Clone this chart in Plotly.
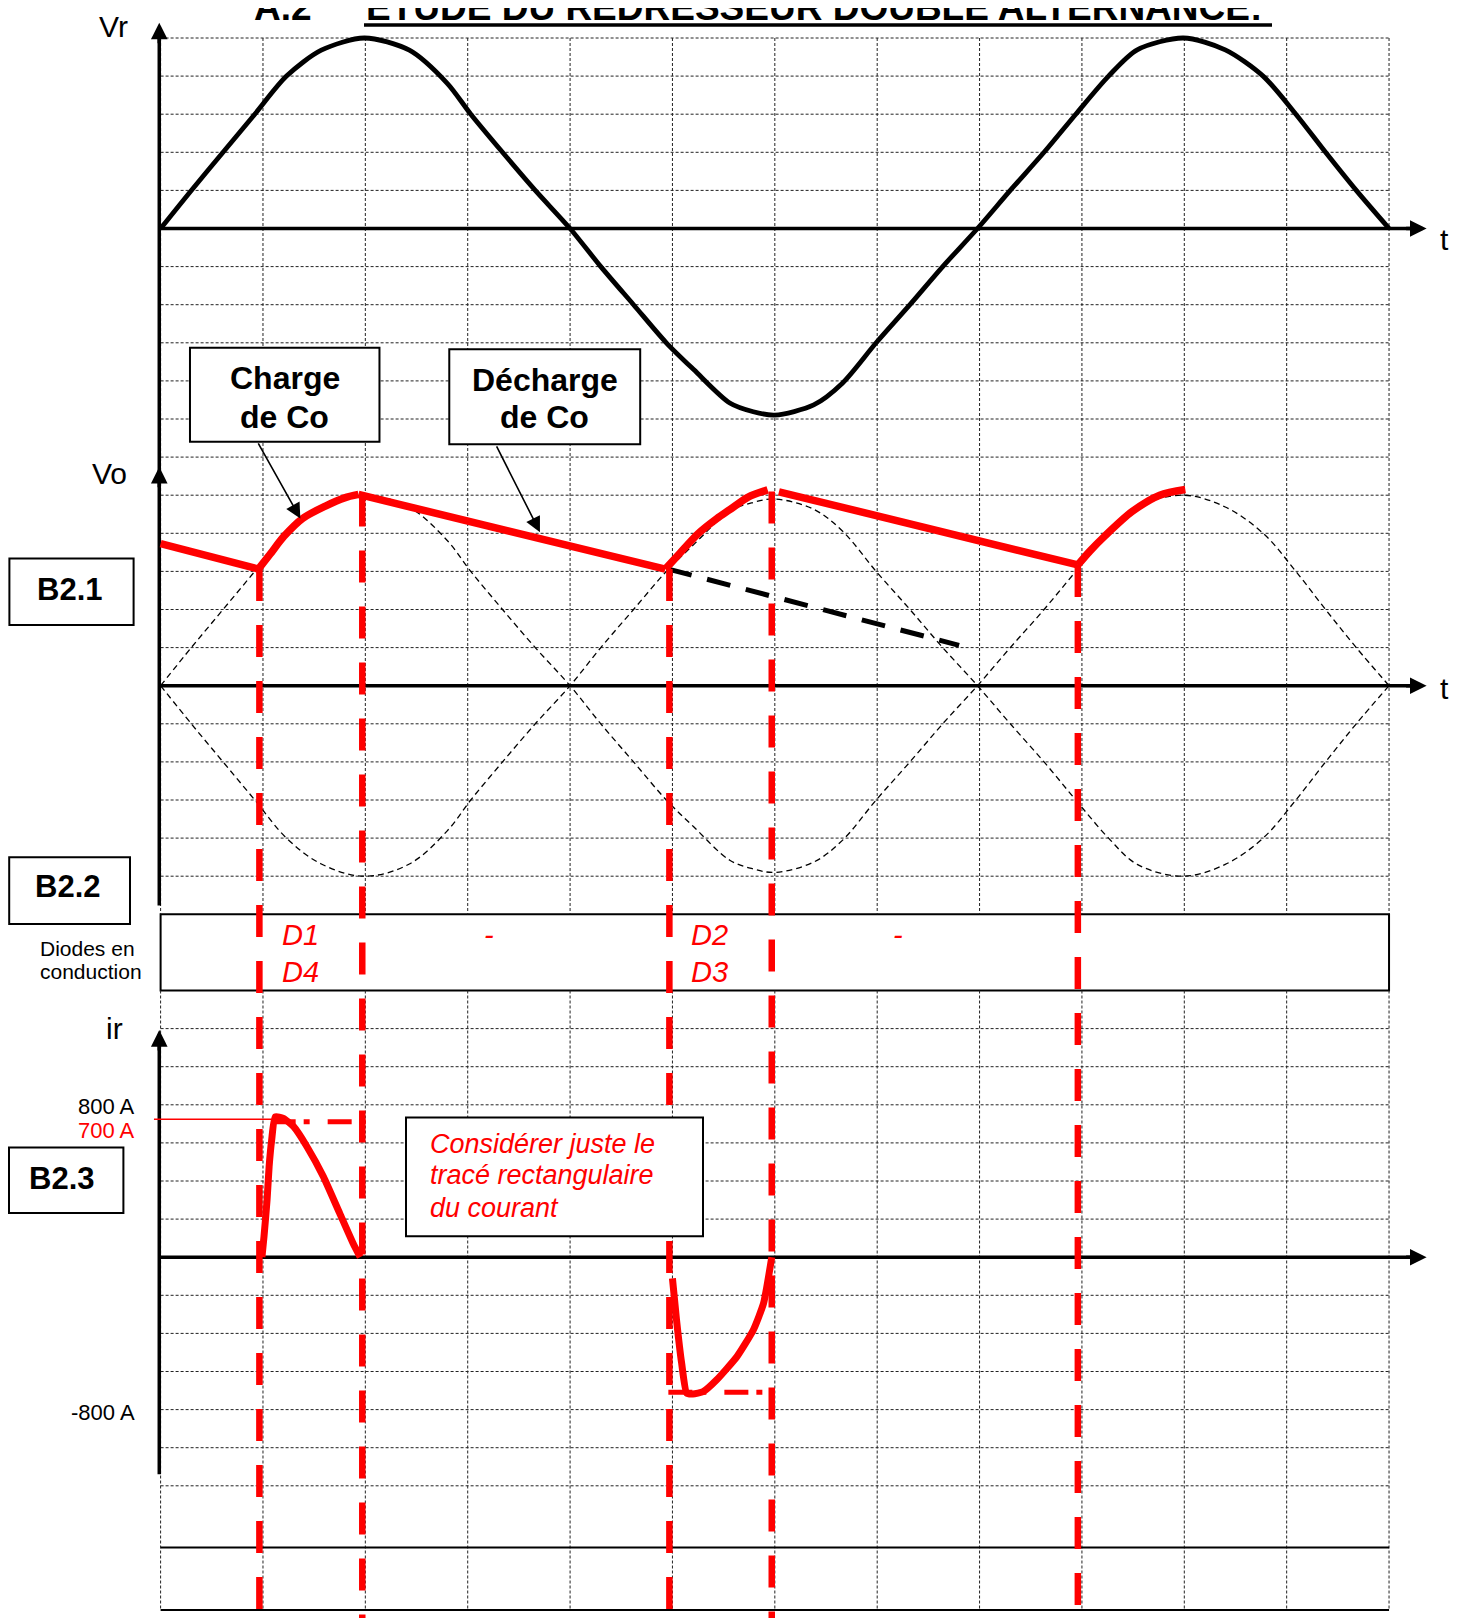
import plotly.graph_objects as go

# ---------------- data ----------------
# grid units: x in grid columns (12 columns), values in grid rows
vr_t = [0, 0.30, 0.61, 0.92, 1.23, 1.57, 1.99, 2.43, 2.80, 3.03, 3.34, 3.66, 4.00,
        4.30, 4.62, 4.94, 5.21, 5.56, 5.79, 6.00, 6.38, 6.66, 6.99, 7.32, 7.64, 7.98,
        8.30, 8.63, 8.94, 9.26, 9.54, 9.99, 10.40, 10.77, 11.09, 11.38, 11.68, 12.00]
vr_v = [0, 1.0, 2.0, 3.0, 4.0, 4.68, 5.0, 4.68, 3.81, 3.0, 2.0, 1.0, 0,
        -1.0, -2.0, -3.0, -3.71, -4.58, -4.81, -4.9, -4.63, -4.06, -3.0, -2.0, -1.0, 0,
        1.0, 2.0, 3.0, 4.0, 4.69, 5.0, 4.69, 4.0, 3.0, 2.0, 1.0, 0]

vo_t = [0, 0.955, 1.069, 1.205, 1.387, 1.615, 1.797, 1.933, 4.93, 5.07, 5.25, 5.435,
        5.56, 5.74, 5.93, None, 6.04, 8.96, 9.08, 9.22, 9.49, 9.76, 10.01]
vo_v = [3.73, 3.06, 3.45, 3.92, 4.39, 4.72, 4.93, 5.02, 3.06, 3.47, 3.99, 4.39,
        4.62, 4.95, 5.14, None, 5.09, 3.17, 3.54, 3.92, 4.57, 5.0, 5.15]
# index ranges (inclusive) of the charging arcs inside vo_t / vo_v
vo_arcs = [(1, 7), (8, 14), (17, 22)]

ext_t = [4.96, 7.80]
ext_v = [3.06, 1.06]

cond_t = [0.965, 1.97, 4.97, 5.97, 8.96]
cond_top = [3.06, 5.02, 3.06, 5.10, 3.17]

ir_t = [0.99, 1.01, 1.04, 1.06, 1.085, 1.12, 1.20, 1.30, 1.43, 1.59, 1.75, 1.88, 1.95, None,
        5.00, 5.04, 5.09, 5.14, 5.20, 5.30, 5.43, 5.63, 5.79, 5.89, 5.97]
ir_a = [0, 108, 300, 475, 615, 737, 729, 685, 580, 423, 230, 73, 0, None,
        -111, -330, -557, -714, -718, -706, -645, -522, -382, -242, 0]

rect_t = [1.085, 2.01, None, 4.96, 5.89]
rect_a = [711, 711, None, -709, -709]
ref700_t = [-0.065, 1.085]
ref700_a = [724, 724]

ir_tick_text = ["800 A", "700 A", "-800 A"]
ir_tick_color = ["black", "#FF0000", "black"]

diode_labels = ["D1", "D4", "-", "D2", "D3", "-"]
note_lines = ["Considérer juste le", "tracé rectangulaire", "du courant"]

# ---------------- geometry (page pixel layout) ----------------
OFF = 8                      # page body margin
W, H = 1463 - OFF, 1618 - OFF
COL_PX, COL0_PX = 102.37, 160.6
ROW_PX, ROW0_PX = 38.1, 38.0
VR_ZERO, VO_ZERO, IR_ZERO = 5, 17, 32
AMP_PER_ROW = 200.0

x_range = [-(COL0_PX - OFF) / COL_PX, (W - (COL0_PX - OFF)) / COL_PX]
row_top = -(ROW0_PX - OFF) / ROW_PX
row_bot = (H - (ROW0_PX - OFF)) / ROW_PX

RED = "#FF0000"
FONT = "Liberation Sans, Arial, sans-serif"

fig = go.Figure()

# ---- grid (drawn as traces) ----
dash_rows = list(range(0, 23)) + list(range(26, 39))
gx, gy = [], []
for r in dash_rows:
    gx += [0, 12, None]
    gy += [r, r, None]
for c in range(13):
    gx += [c, c, None, c, c, None]
    gy += [0, 23, None, 25, 41.26, None]
fig.add_trace(go.Scatter(x=gx, y=gy, mode="lines", yaxis="y",
                         line=dict(color="#222", width=1, dash="3px,2px"),
                         hoverinfo="skip", showlegend=False))
sx, sy = [], []
for r in [39.62, 41.26]:
    sx += [0, 12, None]
    sy += [r, r, None]
fig.add_trace(go.Scatter(x=sx, y=sy, mode="lines", yaxis="y",
                         line=dict(color="black", width=2.2),
                         hoverinfo="skip", showlegend=False))

# ---- dotted +/- Vr in Vo section ----
for sgn in (1, -1):
    fig.add_trace(go.Scatter(x=vr_t, y=[sgn * v for v in vr_v], mode="lines", yaxis="y3",
                             line=dict(color="black", width=1.3, dash="6px,4px", shape="spline"),
                             hoverinfo="skip", showlegend=False))

# ---- axes lines ----
AX_X = -0.013
ax_x = [AX_X, AX_X, None, AX_X, AX_X, None]
ax_y = [-0.25, 22.77, None, 26.2, 37.7, None]
for r in [VR_ZERO, VO_ZERO, IR_ZERO]:
    ax_x += [AX_X, 12.25, None]
    ax_y += [r, r, None]
fig.add_trace(go.Scatter(x=ax_x, y=ax_y, mode="lines", yaxis="y",
                         line=dict(color="black", width=3.5),
                         hoverinfo="skip", showlegend=False))

# ---- Vr ----
fig.add_trace(go.Scatter(x=vr_t, y=vr_v, mode="lines", yaxis="y2",
                         line=dict(color="black", width=4.8, shape="spline", smoothing=0.8),
                         hoverinfo="skip", showlegend=False))

# ---- black dashed extension of discharge ----
fig.add_trace(go.Scatter(x=ext_t, y=ext_v, mode="lines", yaxis="y3",
                         line=dict(color="black", width=5, dash="24px,16px"),
                         hoverinfo="skip", showlegend=False))

# ---- red conduction verticals ----
vo_bottom = VO_ZERO - 41.5
cx, cy = [], []
for t, top in zip(cond_t, cond_top):
    cx += [t, t, None]
    cy += [top, vo_bottom, None]
fig.add_trace(go.Scatter(x=cx, y=cy, mode="lines", yaxis="y3",
                         line=dict(color=RED, width=6.5, dash="32px,24px"),
                         hoverinfo="skip", showlegend=False))

# ---- Vo: straight discharge parts + smooth charging arcs ----
dec_x, dec_y = [], []
prev = 0
for a, b in vo_arcs:
    dec_x += vo_t[prev:a + 1] + [None]
    dec_y += vo_v[prev:a + 1] + [None]
    prev = b
dec_x += vo_t[prev:] if prev < len(vo_t) - 1 else []
dec_y += vo_v[prev:] if prev < len(vo_v) - 1 else []
fig.add_trace(go.Scatter(x=dec_x, y=dec_y, mode="lines", yaxis="y3",
                         line=dict(color=RED, width=7.5),
                         hoverinfo="skip", showlegend=False))
for a, b in vo_arcs:
    fig.add_trace(go.Scatter(x=vo_t[a:b + 1], y=vo_v[a:b + 1], mode="lines", yaxis="y3",
                             line=dict(color=RED, width=7.5, shape="spline", smoothing=0.8),
                             hoverinfo="skip", showlegend=False))

# ---- ir ----
fig.add_trace(go.Scatter(x=ref700_t, y=ref700_a, mode="lines", yaxis="y4",
                         line=dict(color=RED, width=1.6),
                         hoverinfo="skip", showlegend=False))
fig.add_trace(go.Scatter(x=rect_t, y=rect_a, mode="lines", yaxis="y4",
                         line=dict(color=RED, width=5, dash="24px,8px,6px,18px"),
                         hoverinfo="skip", showlegend=False))
fig.add_trace(go.Scatter(x=ir_t, y=ir_a, mode="lines", yaxis="y4",
                         line=dict(color=RED, width=7, shape="spline", smoothing=0.5),
                         hoverinfo="skip", showlegend=False))

# ---------------- annotations ----------------
ann = []


def px_row(py):
    return (py - ROW0_PX) / ROW_PX


def px_col(px):
    return (px - COL0_PX) / COL_PX


def txt(x, y, s, size, color="black", bold=False, italic=False, xanchor="center",
        yanchor="middle"):
    if bold:
        s = "<b>" + s + "</b>"
    if italic:
        s = "<i>" + s + "</i>"
    ann.append(dict(x=x, y=y, xref="x", yref="y", text=s, showarrow=False,
                    xanchor=xanchor, yanchor=yanchor,
                    font=dict(family=FONT, size=size, color=color)))


# title
TFS = 37
TBASE = 22.0
txt(px_col(251.7), px_row(TBASE + 0.212 * TFS), "A.2", TFS, bold=True, xanchor="left", yanchor="bottom")
txt(px_col(364), px_row(TBASE + 0.212 * TFS), "ETUDE DU REDRESSEUR DOUBLE ALTERNANCE:", TFS,
    bold=True, xanchor="left", yanchor="bottom")

# axis labels
txt(px_col(113), px_row(26), "Vr", 30)
txt(px_col(109), px_row(473), "Vo", 30)
txt(px_col(114), px_row(1028), "ir", 30)
txt(px_col(1444), px_row(239), "t", 30)
txt(px_col(1444), px_row(688), "t", 30)

# ir tick labels
for py, s, col in zip([1106, 1130.2, 1412.5], ir_tick_text, ir_tick_color):
    txt(px_col(137.4), px_row(py), s, 22, color=col, xanchor="right")

# B labels
txt(px_col(69.8), px_row(589), "B2.1", 31, bold=True)
txt(px_col(67.5), px_row(886.7), "B2.2", 31, bold=True)
txt(px_col(61.5), px_row(1178), "B2.3", 31, bold=True)
txt(px_col(38), px_row(948), "Diodes en", 21, xanchor="left")
txt(px_col(38), px_row(971.7), "conduction", 21, xanchor="left")

# box texts
txt(1.2125, px_row(378.3), "Charge", 32, bold=True)
txt(1.2125, px_row(416.7), "de Co", 32, bold=True)
txt(3.7525, px_row(380), "Décharge", 32, bold=True)
txt(3.7525, px_row(416.7), "de Co", 32, bold=True)

# diodes
d_pos = [(px_col(280), 23.54, "left"), (px_col(280), 24.51, "left"), (px_col(488.9), 23.54, "center"),
         (px_col(689), 23.54, "left"), (px_col(689), 24.51, "left"), (px_col(898.3), 23.54, "center")]
for (x, y, xa), s in zip(d_pos, diode_labels):
    txt(x, y, s, 29, color=RED, italic=True, xanchor=xa)

# red note
for y, s in zip([1144.2, 1175.0, 1208.3], note_lines):
    txt(px_col(428.4), px_row(y), s, 27, color=RED, italic=True, xanchor="left")

# arrowheads for axes
for (x, y, axp, ayp) in [(AX_X, px_row(22.7), 0, 22), (AX_X, px_row(466.8), 0, 22),
                          (AX_X, px_row(1030), 0, 22),
                          (px_col(1426.6), VR_ZERO, -22, 0), (px_col(1426.6), VO_ZERO, -22, 0),
                          (px_col(1426.6), IR_ZERO, -22, 0)]:
    ann.append(dict(x=x, y=y, xref="x", yref="y", ax=axp, ay=ayp, text="", showarrow=True,
                    arrowhead=2, arrowwidth=3.5, arrowsize=0.95, arrowcolor="black", standoff=0))

# arrows from boxes
for (tx, ty, sx0, sy0) in [(1.365, 12.61, 0.946, 10.6), (3.706, 12.97, 3.275, 10.68)]:
    ann.append(dict(x=tx, y=ty, xref="x", yref="y", ax=sx0, ay=sy0, axref="x", ayref="y",
                    text="", showarrow=True, arrowhead=2, arrowwidth=1.6, arrowsize=1.9,
                    arrowcolor="black", standoff=0))

# ---------------- shapes (boxes) ----------------
shapes = []


def box(x0, y0, x1, y1, layer="above", fill="white", w=2):
    shapes.append(dict(type="rect", xref="x", yref="y", x0=x0, x1=x1, y0=y0, y1=y1,
                       line=dict(color="black", width=w), fillcolor=fill, layer=layer))


box(0, 23, 12, 25, layer="below", fill="rgba(0,0,0,0)")
box(0.287, 8.13, 2.138, 10.6)
box(2.82, 8.17, 4.685, 10.66)
box(px_col(9.4), px_row(558.5), px_col(133.6), px_row(625))
box(px_col(9.2), px_row(857.3), px_col(130), px_row(924))
box(px_col(9.0), px_row(1147.4), px_col(123.4), px_row(1213))
box(px_col(406), px_row(1117.4), px_col(703), px_row(1236.3))
# title underline
shapes.append(dict(type="line", xref="x", yref="y", x0=px_col(364), x1=px_col(1272),
                   y0=px_row(25), y1=px_row(25), line=dict(color="black", width=3.5)))

fig.update_layout(
    width=W, height=H, margin=dict(l=0, r=0, t=0, b=0),
    paper_bgcolor="white", plot_bgcolor="white", showlegend=False,
    xaxis=dict(range=x_range, visible=False, fixedrange=True),
    yaxis=dict(range=[row_bot, row_top], visible=False, fixedrange=True),
    yaxis2=dict(range=[VR_ZERO - row_bot, VR_ZERO - row_top], overlaying="y", visible=False),
    yaxis3=dict(range=[VO_ZERO - row_bot, VO_ZERO - row_top], overlaying="y", visible=False),
    yaxis4=dict(range=[(IR_ZERO - row_bot) * AMP_PER_ROW, (IR_ZERO - row_top) * AMP_PER_ROW],
                overlaying="y", visible=False),
    annotations=ann, shapes=shapes,
)

fig.write_html("out.html")
